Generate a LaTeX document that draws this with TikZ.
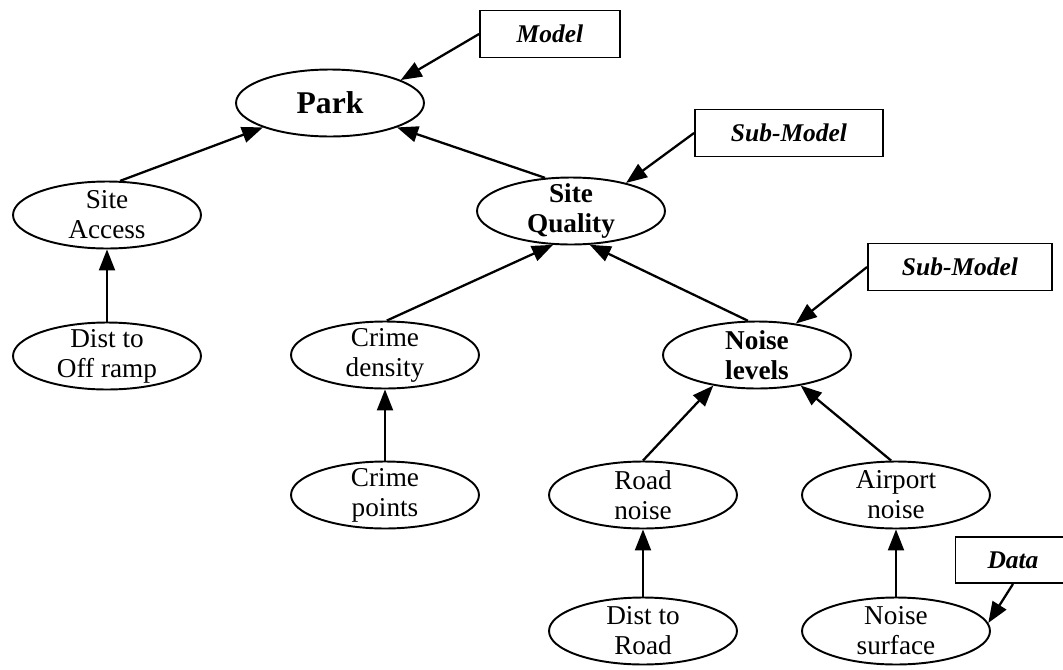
\documentclass[tikz,border=0pt]{standalone}
\usepackage{fontspec}
\setmainfont{Liberation Serif}
\usetikzlibrary{shapes.geometric,arrows.meta}

\begin{document}
\begin{tikzpicture}
    [ x=0.02cm, y=-0.02cm, >={Triangle[length=0.42cm,width=0.32cm]},
      oval/.style={ellipse,draw,line width=1.1pt,minimum width=3.76cm,minimum height=1.34cm,
                   inner xsep=0pt,inner ysep=-3pt,align=center,font=\fontsize{15.5}{17}\selectfont},
      tagbox/.style={rectangle,draw,line width=1.1pt,inner sep=0pt,minimum height=0.94cm,
                     font=\fontsize{14.5}{17}\selectfont\bfseries\itshape},
      arr/.style={->,line width=1.3pt} ]

    \useasboundingbox (0,0) rectangle (1063,670);

    \node (park) at (330,103) [oval,font=\fontsize{18}{20}\selectfont\bfseries] {Park};
    \node (sacc) at (107,215) [oval] {Site\\Access};
    \node (squal) at (571,211) [oval,font=\fontsize{15.5}{17}\selectfont\bfseries] {Site\\Quality};

    \node (dramp) at (107,356) [oval] {Dist to\\Off ramp};
    \node (crd) at (385,355) [oval] {Crime\\density};
    \node (nlev) at (757,355) [oval,font=\fontsize{15.5}{17}\selectfont\bfseries] {Noise\\levels};

    \node (crp) at (385,495) [oval] {Crime\\points};
    \node (rdn) at (643,495) [oval] {Road\\noise};
    \node (apn) at (896,495) [oval] {Airport\\noise};

    \node (drd) at (643,631) [oval] {Dist to\\Road};
    \node (nsf) at (896,631) [oval] {Noise\\surface};

    \node (mdl) at (550,34) [tagbox,minimum width=2.8cm] {Model};
    \node (sub1) at (789,133) [tagbox,minimum width=3.76cm] {Sub-Model};
    \node (sub2) at (960,267) [tagbox,minimum width=3.68cm] {Sub-Model};
    \node (dat) at (1013,560) [tagbox,minimum width=2.3cm,minimum height=0.92cm] {Data};

    \draw[arr] (mdl.west) -- (park.18);
    \draw[arr] (sacc.69) -- (park.200);
    \draw[arr] (squal.128) -- (park.-20);
    \draw[arr] (sub1.west) -- (squal.27);

    \draw[arr] (crd.87) -- (squal.242);
    \draw[arr] (nlev.105) -- (squal.-61);
    \draw[arr] (sub2.west) -- (nlev.39);
    \draw[arr] (dramp) -- (sacc);
    \draw[arr] (crp) -- (crd);

    \draw[arr] (rdn.north) -- (nlev.215);
    \draw[arr] (apn.98) -- (nlev.-35);
    \draw[arr] (drd) -- (rdn);
    \draw[arr] (nsf) -- (apn);
    \draw[arr] (dat.south) -- (nsf.5);

\end{tikzpicture}
\end{document}
